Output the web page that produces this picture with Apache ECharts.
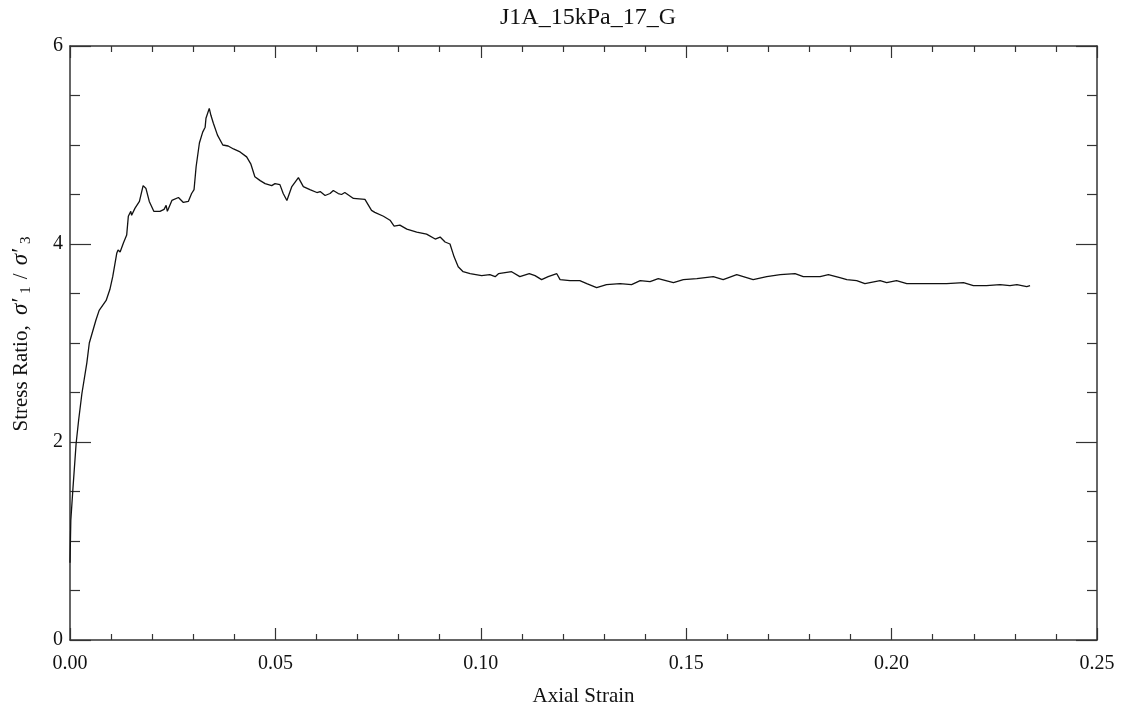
<!DOCTYPE html>
<html>
<head>
<meta charset="utf-8">
<script src="https://cdn.jsdelivr.net/npm/echarts@6/dist/echarts.min.js"></script>
<style>
  html, body { margin: 0; padding: 0; background: #fff; }
  #chart { width: 1123px; height: 717px; }
</style>
</head>
<body>
<div id="chart"></div>
<script>
const chartTitle = 'J1A_15kPa_17_G'

// axial strain (x) and stress ratio (y)
const strain = [
  0.0000, 0.0002, 0.0007, 0.0015, 0.0021, 0.0029, 0.0041, 0.0047, 0.0063, 0.0071,
  0.0088, 0.0097, 0.0104, 0.0114, 0.0117, 0.0122, 0.0130, 0.0138, 0.0142, 0.0148,
  0.0150, 0.0158, 0.0169, 0.0178, 0.0185, 0.0193, 0.0204, 0.0219, 0.0229, 0.0234,
  0.0237, 0.0248, 0.0264, 0.0276, 0.0288, 0.0296, 0.0302, 0.0307, 0.0315, 0.0323,
  0.0329, 0.0331, 0.0334, 0.0339, 0.0343, 0.0349, 0.0359, 0.0372, 0.0385, 0.0398,
  0.0414, 0.0430, 0.0440, 0.0450, 0.0463, 0.0475, 0.0491, 0.0499, 0.0511, 0.0519,
  0.0528, 0.0540, 0.0556, 0.0568, 0.0584, 0.0601, 0.0609, 0.0621, 0.0633, 0.0641,
  0.0653, 0.0661, 0.0669, 0.0690, 0.0718, 0.0734, 0.0742, 0.0763, 0.0779, 0.0789,
  0.0803, 0.0820, 0.0844, 0.0868, 0.0889, 0.0901, 0.0913, 0.0925, 0.0935, 0.0945,
  0.0957, 0.0974, 0.1002, 0.1022, 0.1035, 0.1043, 0.1075, 0.1095, 0.1118, 0.1132,
  0.1148, 0.1164, 0.1185, 0.1193, 0.1217, 0.1241, 0.1258, 0.1282, 0.1306, 0.1339,
  0.1367, 0.1388, 0.1412, 0.1432, 0.1469, 0.1493, 0.1526, 0.1566, 0.1590, 0.1623,
  0.1663, 0.1696, 0.1729, 0.1765, 0.1785, 0.1826, 0.1846, 0.1874, 0.1891, 0.1915,
  0.1935, 0.1972, 0.1988, 0.2012, 0.2037, 0.2077, 0.2110, 0.2134, 0.2175, 0.2199,
  0.2231, 0.2264, 0.2288, 0.2305, 0.2329, 0.2337
]
const ratio = [
  0.78, 1.21, 1.52, 1.99, 2.22, 2.49, 2.80, 3.00, 3.23, 3.33,
  3.43, 3.54, 3.67, 3.91, 3.94, 3.92, 4.01, 4.09, 4.28, 4.33,
  4.29, 4.36, 4.43, 4.59, 4.56, 4.43, 4.33, 4.33, 4.35, 4.39,
  4.33, 4.44, 4.47, 4.42, 4.43, 4.51, 4.55, 4.78, 5.02, 5.13,
  5.18, 5.27, 5.28, 5.37, 5.30, 5.22, 5.10, 5.00, 4.99, 4.96,
  4.93, 4.88, 4.81, 4.68, 4.64, 4.61, 4.59, 4.61, 4.60, 4.51,
  4.44, 4.58, 4.67, 4.58, 4.55, 4.52, 4.53, 4.49, 4.51, 4.54,
  4.51, 4.50, 4.52, 4.46, 4.45, 4.34, 4.32, 4.28, 4.24, 4.18,
  4.19, 4.15, 4.12, 4.10, 4.05, 4.07, 4.02, 4.00, 3.87, 3.77,
  3.72, 3.70, 3.68, 3.69, 3.67, 3.70, 3.72, 3.67, 3.70, 3.68,
  3.64, 3.67, 3.70, 3.64, 3.63, 3.63, 3.60, 3.56, 3.59, 3.60,
  3.59, 3.63, 3.62, 3.65, 3.61, 3.64, 3.65, 3.67, 3.64, 3.69,
  3.64, 3.67, 3.69, 3.70, 3.67, 3.67, 3.69, 3.66, 3.64, 3.63,
  3.60, 3.63, 3.61, 3.63, 3.60, 3.60, 3.60, 3.60, 3.61, 3.58,
  3.58, 3.59, 3.58, 3.59, 3.57, 3.58
]

const xTicks = [0, 0.05, 0.10, 0.15, 0.20, 0.25]
const yTicks = [0, 2, 4, 6]

const font = "'Liberation Serif', 'DejaVu Serif', serif"
const axisColor = '#333'

const chart = echarts.init(document.getElementById('chart'))

// shared frame style, ticks point inward
const xFrame = (pos, showLabel) => ({
  type: 'value',
  position: pos,
  min: xTicks[0],
  max: xTicks[xTicks.length - 1],
  interval: 0.05,
  axisLine: { show: true, onZero: false, lineStyle: { color: axisColor, width: 1.5 } },
  axisTick: { show: true, inside: true, length: 12, lineStyle: { color: axisColor, width: 1.2 } },
  minorTick: { show: true, splitNumber: 5, length: 6, lineStyle: { color: axisColor, width: 1.2 } },
  splitLine: { show: false },
  axisLabel: {
    show: showLabel, margin: 14, color: '#111', fontFamily: font, fontSize: 20,
    formatter: v => v.toFixed(2)
  }
})

const yFrame = (pos, showLabel) => ({
  type: 'value',
  position: pos,
  min: yTicks[0],
  max: yTicks[yTicks.length - 1],
  interval: 2,
  axisLine: { show: true, onZero: false, lineStyle: { color: axisColor, width: 1.5 } },
  axisTick: { show: true, inside: true, length: 21, lineStyle: { color: axisColor, width: 1.2 } },
  minorTick: { show: true, splitNumber: 4, length: 10, lineStyle: { color: axisColor, width: 1.2 } },
  splitLine: { show: false },
  axisLabel: { show: showLabel, margin: 7, color: '#111', fontFamily: font, fontSize: 20 }
})

const xBottom = xFrame('bottom', true)
xBottom.name = 'Axial Strain'
xBottom.nameLocation = 'middle'
xBottom.nameGap = 46
xBottom.nameTextStyle = { color: '#111', fontFamily: font, fontSize: 21 }

const yLeft = yFrame('left', true)
yLeft.name = 'Stress Ratio, {s|σ′}{sub|1}{n|/}{s|σ′}{sub|3}'
yLeft.nameLocation = 'middle'
yLeft.nameGap = 36
yLeft.nameTextStyle = {
  color: '#111', fontFamily: font, fontSize: 21, lineHeight: 26, padding: [0, 0, 0, 22],
  rich: {
    s: { fontFamily: font, fontSize: 23, fontStyle: 'italic', color: '#111', lineHeight: 26, padding: [0, 3, 0, 5] },
    n: { fontFamily: font, fontSize: 21, color: '#111', lineHeight: 26, padding: [0, 3, 0, 3] },
    sub: { fontFamily: font, fontSize: 15, color: '#111', verticalAlign: 'bottom', lineHeight: 20, padding: [8, 4, 0, 2] }
  }
}

const option = {
  backgroundColor: '#fff',
  animation: false,
  title: {
    text: chartTitle,
    left: 583, top: 1, textAlign: 'center',
    textStyle: { color: '#111', fontFamily: font, fontSize: 24, fontWeight: 'normal' }
  },
  grid: { left: 70, right: 26, top: 46, bottom: 77 },
  xAxis: [xBottom, xFrame('top', false)],
  yAxis: [yLeft, yFrame('right', false)],
  series: [
    {
      type: 'line',
      xAxisIndex: 0,
      yAxisIndex: 0,
      showSymbol: false,
      symbol: 'none',
      smooth: false,
      lineStyle: { color: '#111', width: 1.3 },
      data: strain.map((x, i) => [x, ratio[i]])
    }
  ]
}

chart.setOption(option)
</script>
</body>
</html>
